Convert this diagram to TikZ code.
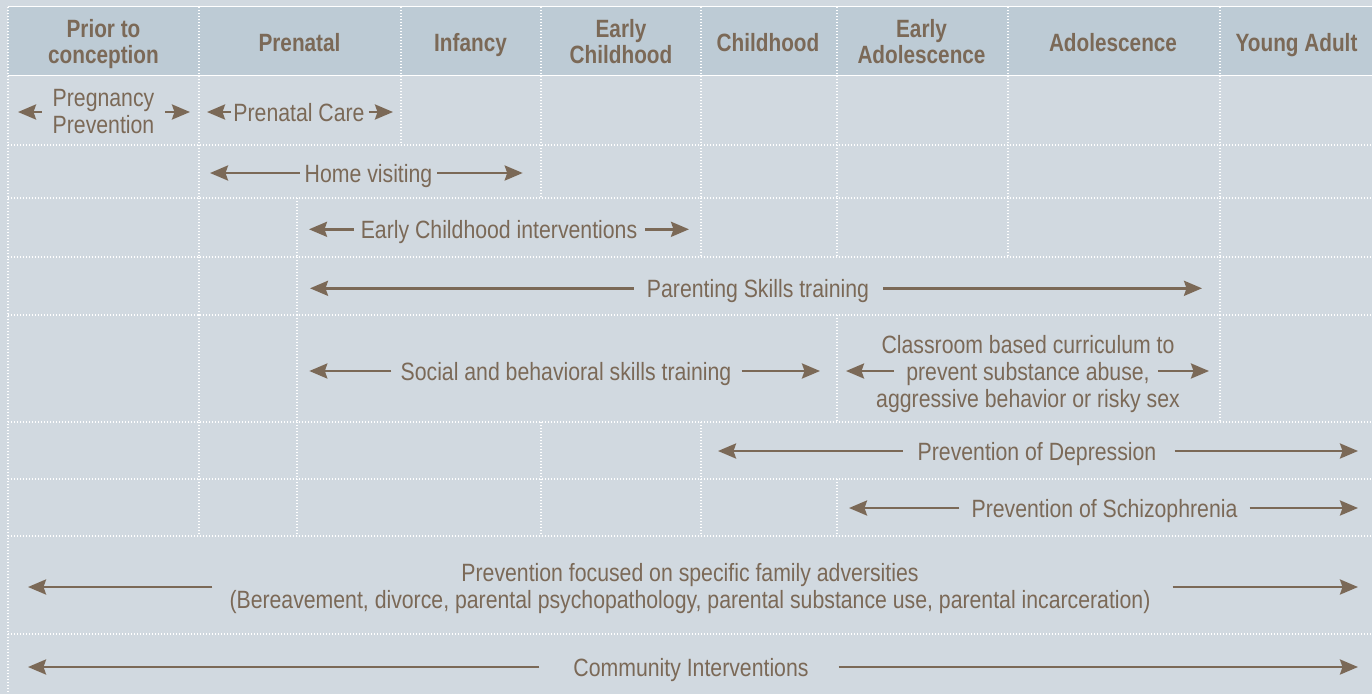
\documentclass[tikz,border=0pt]{standalone}
\usepackage{fontspec}
\setmainfont{Liberation Sans}[FakeStretch=0.85]
\newfontfamily\headfont{Liberation Sans}[FakeStretch=0.83]
\usetikzlibrary{arrows.meta}

\definecolor{bg}{HTML}{D1D9E0}
\definecolor{headbg}{HTML}{BDCBD5}
\definecolor{ink}{HTML}{7B6957}

\tikzset{
  gridline/.style={white, line width=1.3pt, dash pattern=on 1.2pt off 1.8pt},
  solidrule/.style={white, line width=1.6pt},
  lbl/.style={inner sep=0pt, anchor=base, text=ink, font=\fontsize{25}{27}\selectfont},
  hdr/.style={inner sep=0pt, anchor=base, text=ink, font=\headfont\bfseries\fontsize{25}{25.5}\selectfont},
  arr/.style={draw=ink, line width=2.6pt, -{Stealth[length=18pt,width=15pt,inset=2.5pt]}},
}
\newcommand\cellstack[1]{\begin{tabular}[t]{@{}c@{}}#1\end{tabular}}

\begin{document}
\begin{tikzpicture}[x=1pt,y=-1pt]
\useasboundingbox (0,0) rectangle (1372,694);
\fill[bg] (0,0) rectangle (1372,694);
\fill[headbg] (8,7) rectangle (1372,75);

% horizontal rules
\draw[solidrule] (8,6.5) -- (1372,6.5);
\draw[solidrule] (8,75.5) -- (1372,75.5);
\foreach \y in {145,198,257,315,422,479,536,634}
  \draw[gridline] (8,\y) -- (1372,\y);

% vertical dotted separators, row by row
\draw[gridline] (8,7) -- (8,694);
\foreach \x in {199,401,541,701,837,1008,1220} \draw[gridline] (\x,7) -- (\x,145);
\foreach \x in {199,541,701,837,1008,1220} \draw[gridline] (\x,145) -- (\x,198);
\foreach \x in {199,297,701,837,1008,1220} \draw[gridline] (\x,198) -- (\x,257);
\foreach \x in {199,297,1220} \draw[gridline] (\x,257) -- (\x,315);
\foreach \x in {199,297,837,1220} \draw[gridline] (\x,315) -- (\x,422);
\foreach \x in {199,297,541,701} \draw[gridline] (\x,422) -- (\x,479);
\foreach \x in {199,297,541,701,837} \draw[gridline] (\x,479) -- (\x,536);

% column headings
\node[hdr] (h1) at (103.5,37.5) {\cellstack{Prior to\\conception}};
\node[hdr] (h2) at (299.5,51.5) {Prenatal};
\node[hdr] (h3) at (470.5,51.5) {Infancy};
\node[hdr] (h4) at (621,37.5) {\cellstack{Early\\Childhood}};
\node[hdr] (h5) at (768,51.5) {Childhood};
\node[hdr] (h6) at (921.5,37.5) {\cellstack{Early\\Adolescence}};
\node[hdr] (h7) at (1113,51.5) {Adolescence};
\node[hdr] (h8) at (1296.5,51.5) {Young Adult};

% intervention labels
\node[lbl] (preg) at (103.5,106) {\cellstack{Pregnancy\\Prevention}};
\node[lbl] (pc)   at (299,121) {Prenatal Care};
\node[lbl] (hv)   at (368.5,182) {Home visiting};
\node[lbl] (eci)  at (499,238.3) {Early Childhood interventions};
\node[lbl] (pst)  at (758,297.3) {Parenting Skills training};
\node[lbl] (sbt)  at (566,380) {Social and behavioral skills training};
\node[lbl] (cls)  at (1028,353) {\cellstack{Classroom based curriculum to\\prevent substance abuse,\\aggressive behavior or risky sex}};
\node[lbl] (dep)  at (1037,460) {Prevention of Depression};
\node[lbl] (sch)  at (1104.5,517) {Prevention of Schizophrenia};
\node[lbl] (fam)  at (690,581.5) {\cellstack{Prevention focused on specific family adversities\\(Bereavement, divorce, parental psychopathology, parental substance use, parental incarceration)}};
\node[lbl] (com)  at (691,676) {Community Interventions};

% arrow tips
\coordinate (pregL) at (18,112);    \coordinate (pregR) at (190,112);
\coordinate (pcL)   at (207,112);   \coordinate (pcR)   at (393,112);
\coordinate (hvL)   at (210,173);   \coordinate (hvR)   at (522.7,173);
\coordinate (eciL)  at (309,229.3); \coordinate (eciR)  at (689,229.3);
\coordinate (pstL)  at (310,288.3); \coordinate (pstR)  at (1202,288.3);
\coordinate (sbtL)  at (309.3,371); \coordinate (sbtR)  at (820,371);
\coordinate (clsL)  at (846,371);   \coordinate (clsR)  at (1209,371);
\coordinate (depL)  at (718,451);   \coordinate (depR)  at (1358,451);
\coordinate (schL)  at (849,508);   \coordinate (schR)  at (1358,508);
\coordinate (famL)  at (28,587);    \coordinate (famR)  at (1358,587);
\coordinate (comL)  at (28,667);    \coordinate (comR)  at (1358,667);

% span arrows
\draw[arr] ([xshift=-11pt]preg.west |- pregL) -- (pregL);
\draw[arr] ([xshift=11pt]preg.east |- pregR) -- (pregR);
\draw[arr] ([xshift=-2pt]pc.west |- pcL) -- (pcL);
\draw[arr] ([xshift=4pt]pc.east |- pcR) -- (pcR);
\draw[arr] ([xshift=-5pt]hv.west |- hvL) -- (hvL);
\draw[arr] ([xshift=5pt]hv.east |- hvR) -- (hvR);
\draw[arr] ([xshift=-7pt]eci.west |- eciL) -- (eciL);
\draw[arr] ([xshift=8pt]eci.east |- eciR) -- (eciR);
\draw[arr] ([xshift=-13pt]pst.west |- pstL) -- (pstL);
\draw[arr] ([xshift=14pt]pst.east |- pstR) -- (pstR);
\draw[arr] ([xshift=-9pt]sbt.west |- sbtL) -- (sbtL);
\draw[arr] ([xshift=10pt]sbt.east |- sbtR) -- (sbtR);
\draw[arr] ([xshift=18pt]cls.west |- clsL) -- (clsL);
\draw[arr] ([xshift=-22pt]cls.east |- clsR) -- (clsR);
\draw[arr] ([xshift=-15pt]dep.west |- depL) -- (depL);
\draw[arr] ([xshift=18pt]dep.east |- depR) -- (depR);
\draw[arr] ([xshift=-12pt]sch.west |- schL) -- (schL);
\draw[arr] ([xshift=12pt]sch.east |- schR) -- (schR);
\draw[arr] ([xshift=-17pt]fam.west |- famL) -- (famL);
\draw[arr] ([xshift=22pt]fam.east |- famR) -- (famR);
\draw[arr] ([xshift=-34pt]com.west |- comL) -- (comL);
\draw[arr] ([xshift=30pt]com.east |- comR) -- (comR);
\end{tikzpicture}
\end{document}
